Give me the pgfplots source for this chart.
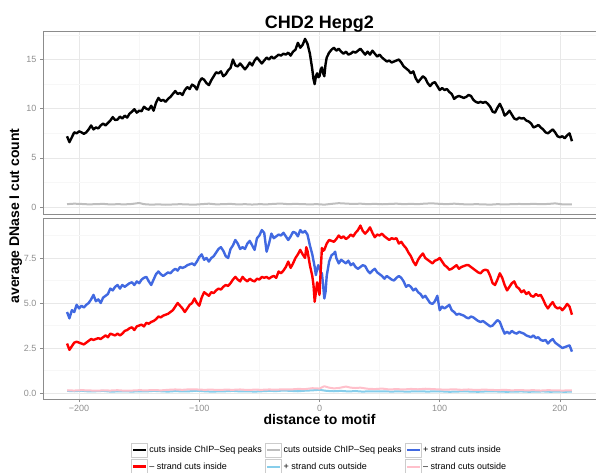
\documentclass[border=0pt]{standalone}
\usepackage{fontspec}
\setmainfont{Liberation Sans}
\usepackage{pgfplots}
\pgfplotsset{compat=1.18}
\definecolor{gborder}{HTML}{8C8C8C}
\definecolor{gmaj}{HTML}{E8E8E8}
\definecolor{gmin}{HTML}{F7F7F7}
\definecolor{glab}{HTML}{8F8F8F}
\definecolor{gkey}{HTML}{CCCCCC}
\definecolor{lgray}{HTML}{BEBEBE}
\definecolor{royalblue}{HTML}{4169E1}
\definecolor{skyblue}{HTML}{87CEEB}
\definecolor{pinkc}{HTML}{FFC0CB}
\pgfplotsset{
  panel/.style={
    scale only axis, width=553pt, xmin=-230, xmax=230,
    axis line style={draw=gborder,line width=0.6pt},
    grid=both,
    major grid style={draw=gmaj,line width=0.6pt},
    minor grid style={draw=gmin,line width=0.5pt},
    xtick={-200,-100,0,100,200}, minor xtick={-150,-50,50,150},
    tick align=outside, ytick pos=left, xtick pos=bottom,
    major tick length=3pt, minor tick length=0pt,
    tick style={draw=gborder,line width=0.5pt},
    ticklabel style={font=\fontsize{9}{10}\selectfont, text=glab},
    /pgf/number format/assume math mode=true,
    legend image code/.code={
      \draw[draw=gkey,line width=0.6pt,fill=white] (0pt,-7pt) rectangle (16pt,7pt);
      \draw[##1] (1.5pt,0pt) -- (14.5pt,0pt);},
    every axis plot/.append style={line join=round},
  }
}
\begin{document}
\begin{tikzpicture}[x=1pt,y=1pt]
\path[use as bounding box] (0,0) rectangle (596,472);

\begin{axis}[panel, at={(43pt,258pt)}, anchor=south west, height=183pt,
  ymin=-0.7, ymax=17.9, ytick={0,5,10,15}, minor ytick={2.5,7.5,12.5,17.5},
  xticklabels={}, xtick style={draw=none}]
\addplot[lgray, line width=2pt] coordinates {
(-210,0.3) (-204,0.35) (-198,0.32) (-192,0.28) (-186,0.3) (-180,0.33) (-174,0.27) (-168,0.3) (-162,0.28) (-156,0.32) (-150,0.42) (-146,0.3) (-140,0.25) (-134,0.28) (-128,0.24) (-122,0.27) (-116,0.3) (-110,0.27) (-104,0.25) (-98,0.3) (-92,0.35) (-86,0.28) (-80,0.3) (-74,0.33) (-68,0.27) (-62,0.3) (-56,0.26) (-50,0.3) (-44,0.28) (-38,0.33) (-32,0.36) (-26,0.3) (-20,0.33) (-14,0.3) (-8,0.28) (-2,0.3) (4,0.25) (10,0.33) (16,0.4) (22,0.36) (28,0.32) (34,0.35) (40,0.3) (46,0.33) (52,0.29) (58,0.32) (64,0.35) (70,0.3) (76,0.33) (82,0.3) (88,0.36) (94,0.38) (100,0.33) (106,0.3) (112,0.35) (118,0.3) (124,0.27) (130,0.3) (136,0.28) (142,0.25) (148,0.3) (154,0.27) (160,0.3) (166,0.32) (172,0.3) (178,0.33) (184,0.3) (190,0.32) (196,0.38) (202,0.28) (210,0.27)};
\addplot[black, line width=2.4pt] coordinates {
(-210,7.2) (-208,6.6) (-206,7.1) (-204,7.6) (-202,7.5) (-200,7.7) (-198,7.6) (-196,7.45) (-194,7.6) (-192,7.9) (-190,8.3) (-188,7.9) (-186,8.1) (-184,8.0) (-182,8.3) (-180,8.5) (-178,8.3) (-176,8.55) (-174,8.8) (-172,9.15) (-170,8.85) (-168,8.9) (-166,9.2) (-164,9.0) (-162,9.3) (-160,9.1) (-158,9.5) (-156,9.7) (-154,9.95) (-152,9.6) (-150,9.8) (-148,9.75) (-146,10.2) (-144,10.0) (-142,9.9) (-140,10.3) (-138,9.8) (-136,10.6) (-134,11.1) (-132,10.8) (-130,10.9) (-128,10.7) (-126,11.0) (-124,11.2) (-122,11.5) (-120,11.8) (-118,11.5) (-116,11.6) (-114,11.4) (-112,11.9) (-110,12.2) (-108,12.0) (-106,12.45) (-104,12.3) (-102,11.95) (-100,12.7) (-98,13.1) (-96,12.95) (-94,12.6) (-92,12.4) (-90,12.9) (-88,13.3) (-86,13.7) (-84,13.6) (-82,13.8) (-80,13.3) (-78,13.5) (-76,13.9) (-74,14.15) (-72,15.0) (-70,14.4) (-68,14.3) (-66,14.6) (-64,14.3) (-62,14.0) (-60,14.3) (-58,14.7) (-56,14.4) (-54,14.9) (-52,15.2) (-50,14.9) (-48,14.6) (-46,14.9) (-44,15.2) (-42,15.0) (-40,15.3) (-38,15.1) (-36,15.3) (-34,15.5) (-32,15.4) (-30,15.6) (-28,15.5) (-26,15.7) (-24,15.4) (-22,15.8) (-20,16.0) (-18,16.7) (-16,16.2) (-14,16.5) (-12,17.1) (-10,16.6) (-8,15.6) (-7,14.8) (-6,14.0) (-5,13.0) (-4,12.5) (-3,13.3) (-2,13.6) (-1,13.2) (0,13.3) (1,14.0) (2,14.2) (3,13.6) (4,13.3) (5,14.5) (6,15.2) (8,15.7) (10,16.0) (12,16.2) (14,15.9) (16,16.1) (18,15.8) (20,15.6) (22,15.8) (24,15.5) (26,15.6) (28,15.8) (30,15.7) (32,15.9) (34,16.1) (36,15.8) (38,15.5) (40,15.8) (42,15.5) (44,15.9) (46,15.6) (48,15.3) (50,15.5) (52,15.2) (54,15.0) (56,14.8) (58,14.9) (60,14.7) (62,14.8) (64,14.9) (66,15.0) (68,14.7) (70,14.3) (72,14.1) (74,13.9) (76,13.6) (78,13.8) (80,13.1) (82,12.7) (84,13.0) (86,13.3) (88,13.1) (90,12.6) (92,12.3) (94,12.6) (96,12.7) (98,12.3) (100,11.9) (102,12.1) (104,11.9) (106,12.0) (108,11.7) (110,11.5) (112,11.0) (114,11.2) (116,11.3) (118,11.2) (120,11.1) (122,11.2) (124,11.4) (126,11.3) (128,10.9) (130,10.7) (132,10.6) (134,10.7) (136,10.6) (138,10.7) (140,10.5) (142,10.2) (144,9.7) (146,9.6) (148,10.1) (150,10.5) (152,10.0) (154,9.3) (156,9.5) (158,9.8) (160,9.4) (162,9.0) (164,8.9) (166,9.1) (168,9.0) (170,9.05) (172,8.8) (174,8.7) (176,8.5) (178,8.1) (180,8.2) (182,8.35) (184,8.1) (186,7.9) (188,7.6) (190,7.5) (192,7.7) (194,7.9) (196,7.6) (198,7.2) (200,7.1) (202,7.2) (204,7.0) (206,7.3) (208,7.5) (210,6.7)};
\end{axis}

\begin{axis}[panel, at={(43pt,73pt)}, anchor=south west, height=181pt,
  ymin=-0.33, ymax=9.72, ytick={0,2.5,5,7.5}, minor ytick={1.25,3.75,6.25,8.75},
  yticklabels={0.0,2.5,5.0,7.5}, xticklabels={−200,−100,0,100,200},
  legend columns=3, legend cell align=left,
  legend style={at={(0.5,-0.328)}, anchor=center, draw=none, fill=none,
    font=\fontsize{9}{10}\selectfont, row sep=2pt,
    nodes={inner sep=1.5pt},
    /tikz/every even column/.append style={column sep=2pt}}]
\addlegendimage{black, line width=2.4pt}
\addlegendentry{cuts inside ChIP--Seq peaks}
\addlegendimage{lgray, line width=2.4pt}
\addlegendentry{cuts outside ChIP--Seq peaks}
\addplot[royalblue, line width=2.4pt] coordinates {
(-210,4.5) (-208,4.15) (-206,4.6) (-204,4.5) (-202,4.9) (-200,4.7) (-198,4.85) (-196,4.75) (-194,4.9) (-192,5.0) (-190,5.2) (-188,5.45) (-186,5.1) (-184,5.2) (-182,5.0) (-180,5.3) (-178,5.4) (-176,5.5) (-174,5.8) (-172,5.7) (-170,5.9) (-168,6.0) (-166,5.8) (-164,6.0) (-162,5.9) (-160,6.0) (-158,6.1) (-156,6.15) (-154,6.0) (-152,6.2) (-150,6.1) (-148,6.3) (-146,6.4) (-144,6.45) (-142,6.2) (-140,6.0) (-138,6.3) (-136,6.6) (-134,6.75) (-132,6.6) (-130,6.5) (-128,6.6) (-126,6.7) (-124,6.65) (-122,6.8) (-120,6.9) (-118,6.8) (-116,7.0) (-114,6.95) (-112,7.0) (-110,7.1) (-108,7.15) (-106,7.2) (-104,7.1) (-102,7.3) (-100,7.55) (-98,7.7) (-96,7.4) (-94,7.5) (-92,7.3) (-90,7.5) (-88,7.6) (-86,7.8) (-84,8.0) (-82,8.1) (-80,7.9) (-78,7.6) (-76,7.5) (-74,8.0) (-72,8.2) (-70,8.5) (-68,8.3) (-66,8.0) (-64,8.1) (-62,8.0) (-60,8.3) (-58,8.45) (-56,8.2) (-54,7.95) (-52,8.6) (-50,8.75) (-48,9.05) (-46,8.9) (-44,7.85) (-42,8.3) (-40,8.85) (-38,8.6) (-36,8.7) (-34,8.8) (-32,8.75) (-30,8.9) (-28,8.7) (-26,8.5) (-24,8.7) (-22,8.95) (-20,8.9) (-18,8.7) (-16,9.05) (-14,8.9) (-12,9.0) (-10,8.8) (-8,8.2) (-6,7.7) (-4,7.0) (-3,6.55) (-2,6.9) (-1,7.1) (0,6.9) (1,6.7) (2,6.65) (3,6.0) (4,5.25) (5,5.6) (6,6.5) (7,6.9) (8,7.3) (10,7.65) (12,7.75) (13,7.85) (14,7.5) (16,7.2) (18,7.4) (20,7.3) (22,7.2) (24,7.35) (26,7.1) (28,7.2) (30,7.0) (32,6.9) (34,7.0) (36,7.1) (38,7.05) (40,6.8) (42,6.65) (44,6.8) (46,6.9) (48,6.7) (50,6.6) (52,6.5) (54,6.35) (56,6.5) (58,6.4) (60,6.3) (62,6.25) (64,6.4) (66,6.5) (68,6.4) (70,6.2) (72,5.9) (74,6.0) (76,5.9) (78,5.7) (80,5.8) (82,5.6) (84,5.5) (86,5.3) (88,5.4) (90,5.2) (92,5.0) (94,4.95) (96,5.1) (98,5.4) (100,4.6) (102,4.8) (104,4.7) (106,4.8) (108,4.9) (110,4.6) (112,4.5) (114,4.35) (116,4.4) (118,4.35) (120,4.3) (122,4.2) (124,4.15) (126,4.25) (128,4.2) (130,4.1) (132,4.0) (134,3.95) (136,4.0) (138,3.9) (140,3.8) (142,3.7) (144,3.75) (146,3.9) (148,4.05) (150,3.95) (152,3.6) (154,3.3) (156,3.4) (158,3.3) (160,3.45) (162,3.35) (164,3.3) (166,3.4) (168,3.35) (170,3.3) (172,3.2) (174,3.15) (176,3.1) (178,3.2) (180,3.05) (182,3.1) (184,2.95) (186,2.9) (188,2.95) (190,2.75) (192,2.9) (194,3.0) (196,2.8) (198,2.7) (200,2.6) (202,2.5) (204,2.55) (206,2.6) (208,2.65) (210,2.3)};
\addlegendentry{+ strand cuts inside}
\addplot[red, line width=2.4pt] coordinates {
(-210,2.75) (-208,2.4) (-206,2.6) (-204,2.8) (-202,2.85) (-200,2.8) (-198,2.75) (-196,2.7) (-194,2.8) (-192,2.9) (-190,3.0) (-188,2.95) (-186,3.0) (-184,3.05) (-182,3.0) (-180,3.1) (-178,3.2) (-176,3.1) (-174,3.3) (-172,3.25) (-170,3.2) (-168,3.3) (-166,3.2) (-164,3.3) (-162,3.45) (-160,3.5) (-158,3.6) (-156,3.65) (-154,3.5) (-152,3.7) (-150,3.75) (-148,3.8) (-146,3.7) (-144,3.9) (-142,3.85) (-140,3.95) (-138,4.0) (-136,4.1) (-134,4.25) (-132,4.2) (-130,4.3) (-128,4.35) (-126,4.4) (-124,4.5) (-122,4.6) (-120,4.8) (-118,5.0) (-116,4.85) (-114,4.7) (-112,4.5) (-110,4.7) (-108,4.9) (-106,5.0) (-104,5.25) (-102,5.0) (-100,4.85) (-98,5.3) (-96,5.6) (-94,5.5) (-92,5.4) (-90,5.6) (-88,5.55) (-86,5.7) (-84,5.8) (-82,5.75) (-80,5.9) (-78,6.0) (-76,5.95) (-74,6.1) (-72,6.3) (-70,6.45) (-68,6.3) (-66,6.2) (-64,6.45) (-62,6.3) (-60,6.2) (-58,6.35) (-56,6.25) (-54,6.2) (-52,6.35) (-50,6.3) (-48,6.45) (-46,6.4) (-44,6.45) (-42,6.35) (-40,6.45) (-38,6.5) (-36,6.4) (-34,6.75) (-32,6.65) (-30,6.8) (-28,7.0) (-26,7.3) (-24,6.95) (-22,7.2) (-20,7.5) (-18,7.7) (-16,7.95) (-14,7.7) (-12,7.5) (-11,8.1) (-10,7.9) (-8,7.1) (-6,6.5) (-5,6.0) (-4,5.07) (-3,5.6) (-2,6.15) (-1,5.8) (0,5.45) (1,6.8) (2,8.05) (3,7.9) (4,7.95) (6,8.3) (8,8.5) (10,8.45) (12,8.4) (14,8.55) (16,8.75) (18,8.6) (20,8.7) (22,8.55) (24,8.65) (26,8.8) (28,8.7) (30,8.9) (32,9.05) (34,9.3) (36,9.0) (38,8.85) (40,9.0) (42,9.2) (44,8.9) (46,8.65) (48,8.8) (50,8.75) (52,8.85) (54,8.7) (56,8.6) (58,8.5) (60,8.6) (62,8.55) (64,8.6) (66,8.3) (68,8.4) (70,8.2) (72,8.05) (74,7.8) (76,7.6) (78,7.3) (80,7.1) (82,7.4) (84,7.6) (86,7.75) (88,7.5) (90,7.4) (92,7.3) (94,7.2) (96,7.35) (98,7.4) (100,7.5) (102,7.3) (104,7.1) (106,7.0) (108,6.85) (110,6.9) (112,7.0) (114,7.1) (116,6.9) (118,7.0) (120,7.05) (122,7.1) (124,7.1) (126,7.0) (128,6.9) (130,6.8) (132,6.7) (134,6.65) (136,6.8) (138,6.85) (140,6.8) (142,6.5) (144,6.1) (146,6.0) (148,6.3) (150,6.65) (152,6.4) (154,6.0) (156,5.7) (158,5.9) (160,6.1) (162,6.2) (164,5.9) (166,5.8) (168,5.6) (170,5.7) (172,5.5) (174,5.6) (176,5.4) (178,5.35) (180,5.5) (182,5.4) (184,5.45) (186,5.2) (188,4.9) (190,4.7) (192,4.9) (194,5.05) (196,4.8) (198,4.7) (200,4.75) (202,4.6) (204,4.75) (206,4.95) (208,4.8) (210,4.35)};
\addlegendentry{-- strand cuts inside}
\addplot[skyblue, line width=2pt] coordinates {
(-210,0.12) (-204,0.1) (-198,0.13) (-192,0.09) (-186,0.1) (-180,0.12) (-174,0.08) (-168,0.09) (-162,0.1) (-156,0.08) (-150,0.1) (-144,0.09) (-138,0.12) (-132,0.1) (-126,0.08) (-120,0.11) (-114,0.09) (-108,0.1) (-102,0.13) (-96,0.1) (-90,0.08) (-84,0.09) (-78,0.1) (-72,0.12) (-66,0.09) (-60,0.1) (-54,0.08) (-48,0.1) (-42,0.12) (-36,0.11) (-30,0.14) (-24,0.12) (-18,0.1) (-12,0.13) (-6,0.15) (0,0.18) (6,0.12) (12,0.1) (18,0.12) (24,0.09) (30,0.11) (36,0.08) (42,0.1) (48,0.09) (54,0.1) (60,0.08) (66,0.1) (72,0.08) (78,0.09) (84,0.1) (90,0.08) (96,0.1) (102,0.09) (108,0.07) (114,0.08) (120,0.1) (126,0.08) (132,0.07) (138,0.09) (144,0.1) (150,0.08) (156,0.07) (162,0.08) (168,0.09) (174,0.07) (180,0.08) (186,0.09) (192,0.07) (198,0.08) (204,0.07) (210,0.08)};
\addlegendentry{+ strand cuts outside}
\addplot[pinkc, line width=2pt] coordinates {
(-210,0.15) (-204,0.14) (-198,0.16) (-192,0.15) (-186,0.13) (-180,0.15) (-174,0.14) (-168,0.16) (-162,0.13) (-156,0.14) (-150,0.16) (-144,0.15) (-138,0.17) (-132,0.15) (-126,0.18) (-120,0.2) (-114,0.18) (-108,0.21) (-102,0.2) (-96,0.18) (-90,0.19) (-84,0.17) (-78,0.19) (-72,0.18) (-66,0.2) (-60,0.17) (-54,0.19) (-48,0.18) (-42,0.2) (-36,0.19) (-30,0.21) (-24,0.2) (-18,0.23) (-12,0.22) (-6,0.27) (0,0.25) (4,0.38) (8,0.3) (12,0.26) (16,0.28) (22,0.36) (26,0.3) (30,0.28) (34,0.3) (40,0.24) (46,0.22) (52,0.25) (58,0.2) (64,0.22) (70,0.2) (76,0.23) (82,0.21) (88,0.24) (94,0.22) (100,0.2) (106,0.19) (112,0.21) (118,0.18) (124,0.2) (130,0.17) (136,0.19) (142,0.18) (148,0.16) (154,0.18) (160,0.15) (166,0.17) (172,0.15) (178,0.16) (184,0.14) (190,0.16) (196,0.15) (202,0.14) (210,0.15)};
\addlegendentry{-- strand cuts outside}
\end{axis}

\node[anchor=base, font=\bfseries\fontsize{18}{20}\selectfont] at (319.5,443.7) {CHD2 Hepg2};
\node[anchor=base, rotate=90, font=\bfseries\fontsize{14}{16}\selectfont] at (19,256) {average DNase I cut count};
\node[anchor=base, font=\bfseries\fontsize{14}{16}\selectfont] at (319.5,48) {distance to motif};
\end{tikzpicture}
\end{document}
